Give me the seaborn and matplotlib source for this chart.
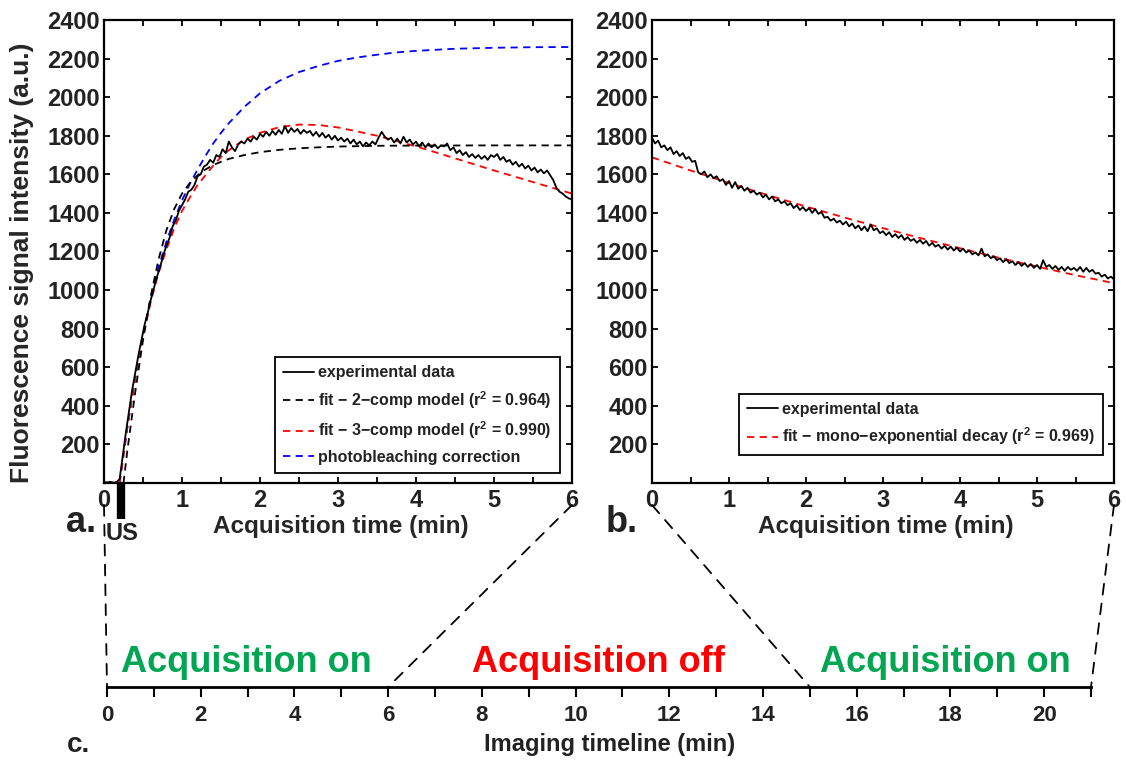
import numpy as np
import matplotlib
matplotlib.use('Agg')
import matplotlib.pyplot as plt
import matplotlib.transforms as mtransforms
from matplotlib.patches import ConnectionPatch
import seaborn as sns

# ---- panel a : uptake after US, experimental trace (a.u.) ----
signal_a = [5, 3, 6, 2, 4, 20, 140, 260, 370, 480, 570, 660, 740, 820, 880, 950,
            1010, 1070, 1120, 1180, 1230, 1270, 1330, 1360, 1410, 1440, 1470, 1510,
            1520, 1545, 1590, 1600, 1640, 1650, 1675, 1660, 1700, 1690, 1730, 1710,
            1770, 1740, 1720, 1755, 1770, 1760, 1785, 1770, 1795, 1780, 1810, 1795,
            1820, 1800, 1825, 1805, 1830, 1810, 1850, 1815, 1840, 1820, 1835, 1810,
            1830, 1815, 1825, 1800, 1820, 1795, 1815, 1790, 1805, 1780, 1800, 1775,
            1790, 1770, 1785, 1760, 1780, 1755, 1770, 1745, 1765, 1750, 1770, 1755,
            1790, 1820, 1795, 1780, 1790, 1765, 1785, 1760, 1795, 1765, 1780, 1755,
            1770, 1745, 1765, 1740, 1760, 1740, 1755, 1735, 1750, 1745, 1760, 1725,
            1740, 1710, 1725, 1700, 1715, 1690, 1705, 1685, 1700, 1680, 1695, 1675,
            1700, 1690, 1705, 1675, 1690, 1665, 1675, 1650, 1665, 1640, 1655, 1630,
            1645, 1620, 1635, 1610, 1625, 1605, 1620, 1595, 1570, 1530, 1510, 1500,
            1485, 1475, 1470]
time_a = np.linspace(0, 6, len(signal_a))

fit2_t = [0.25, 0.3, 0.4, 0.5, 0.6, 0.7, 0.8, 0.9, 1.0, 1.1, 1.2, 1.3, 1.4, 1.5,
          1.6, 1.8, 2.0, 2.25, 2.5, 2.75, 3.0, 3.5, 4.0, 5.0, 6.0]
fit2_v = [0, 170, 470, 740, 970, 1160, 1310, 1420, 1500, 1555, 1595, 1625, 1648,
          1665, 1680, 1700, 1715, 1727, 1735, 1740, 1744, 1748, 1749, 1750, 1750]

fit3_t = [0.2, 0.3, 0.4, 0.5, 0.6, 0.7, 0.8, 0.9, 1.0, 1.1, 1.2, 1.3, 1.4, 1.5,
          1.6, 1.8, 2.0, 2.25, 2.5, 2.75, 3.0, 3.25, 3.5, 3.75, 4.0, 4.5, 5.0, 5.5, 6.0]
fit3_v = [0, 290, 540, 760, 940, 1090, 1210, 1320, 1410, 1480, 1545, 1595, 1645,
          1690, 1725, 1780, 1815, 1845, 1858, 1856, 1843, 1822, 1800, 1773, 1745,
          1683, 1620, 1560, 1500]
bleach_v = [0, 290, 545, 770, 960, 1120, 1250, 1365, 1465, 1550, 1625, 1695, 1760,
            1815, 1865, 1950, 2020, 2085, 2130, 2162, 2188, 2206, 2220, 2232, 2240,
            2251, 2256, 2259, 2260]

# ---- panel b : wash-out after acquisition pause ----
signal_b = [1790, 1760, 1775, 1740, 1750, 1725, 1740, 1705, 1720, 1695, 1710, 1680,
            1690, 1665, 1670, 1610, 1600, 1615, 1585, 1600, 1580, 1590, 1565, 1575,
            1545, 1565, 1530, 1560, 1525, 1540, 1515, 1530, 1505, 1515, 1495, 1505,
            1480, 1495, 1470, 1485, 1460, 1470, 1450, 1460, 1440, 1450, 1425, 1440,
            1415, 1430, 1410, 1425, 1400, 1420, 1395, 1405, 1375, 1380, 1360, 1370,
            1350, 1360, 1340, 1355, 1330, 1345, 1320, 1335, 1310, 1330, 1305, 1340,
            1310, 1320, 1295, 1305, 1285, 1300, 1275, 1290, 1270, 1285, 1260, 1275,
            1255, 1265, 1245, 1260, 1240, 1255, 1230, 1245, 1225, 1235, 1215, 1230,
            1210, 1225, 1205, 1220, 1200, 1215, 1195, 1205, 1185, 1195, 1180, 1215,
            1175, 1185, 1165, 1175, 1155, 1165, 1145, 1160, 1140, 1150, 1130, 1145,
            1125, 1140, 1120, 1135, 1115, 1130, 1110, 1155, 1120, 1130, 1110, 1125,
            1105, 1120, 1100, 1120, 1105, 1115, 1100, 1120, 1095, 1115, 1095, 1105,
            1085, 1090, 1070, 1080, 1060, 1070, 1055]
time_b = np.linspace(0, 6, len(signal_b))

fitb_t = [0, 0.5, 1, 1.5, 2, 2.5, 3, 3.5, 4, 4.5, 5, 5.5, 6]
fitb_v = [1688, 1620, 1555, 1493, 1433, 1376, 1321, 1268, 1217, 1168, 1122, 1077, 1036]

# ---- timeline ----
timeline_ticks = list(range(0, 22))
phase_labels = ['Acquisition on', 'Acquisition off', 'Acquisition on']
phase_centers = [2.97, 10.48, 17.9]
phase_colors = ['#00A651', '#FF0000', '#00A651']

sns.set_style('ticks')
plt.rcParams['font.family'] = ['Liberation Sans', 'DejaVu Sans']
plt.rcParams['font.weight'] = 'bold'
plt.rcParams['mathtext.fontset'] = 'custom'
plt.rcParams['mathtext.rm'] = 'Liberation Sans:bold'
plt.rcParams['mathtext.bf'] = 'Liberation Sans:bold'
plt.rcParams['mathtext.it'] = 'Liberation Sans:bold'
plt.rcParams['text.color'] = '#222222'

W, H = 1126, 765
fig = plt.figure(figsize=(W / 100, H / 100), dpi=100)
fig.patch.set_facecolor('white')

ax_a = fig.add_axes([104 / W, 1 - 483 / H, 468 / W, 463 / H])
ax_b = fig.add_axes([652 / W, 1 - 483 / H, 462 / W, 463 / H])
ax_t = fig.add_axes([107 / W, 1 - 687 / H, 984 / W, 0.05])

dash = (0, (4, 3))
sns.lineplot(x=fit3_t, y=bleach_v, ax=ax_a, color='#0000FF', lw=1.3, linestyle=dash)
sns.lineplot(x=fit3_t, y=fit3_v, ax=ax_a, color='#FF0000', lw=1.3, linestyle=dash)
sns.lineplot(x=fit2_t, y=fit2_v, ax=ax_a, color='black', lw=1.3, linestyle=dash)
sns.lineplot(x=time_a, y=signal_a, ax=ax_a, color='black', lw=1.3)

sns.lineplot(x=fitb_t, y=fitb_v, ax=ax_b, color='#FF0000', lw=1.3, linestyle=dash)
sns.lineplot(x=time_b, y=signal_b, ax=ax_b, color='black', lw=1.3)

for ax in (ax_a, ax_b):
    ax.set_xlim(0, 6)
    ax.set_ylim(0, 2400)
    ax.set_xticks(np.arange(0, 6.01, 0.5))
    ax.set_xticklabels([str(int(v)) if v % 1 == 0 else '' for v in np.arange(0, 6.01, 0.5)])
    ax.set_yticks(range(200, 2401, 200))
    ax.tick_params(direction='in', length=4, width=1.3, top=True, right=True,
                   labelsize=17, colors='black', labelcolor='#222222')
    ax.tick_params(axis='x', pad=4)
    ax.tick_params(axis='y', pad=3)
    for s in ax.spines.values():
        s.set_visible(True)
        s.set_linewidth(1.6)
        s.set_color('black')
    ax.set_xlabel('Acquisition time (min)', fontsize=17.5, fontweight='bold')
    ax.xaxis.set_label_coords(0.507, -0.07)

ax_a.set_ylabel('Fluorescence signal intensity (a.u.)', fontsize=19, fontweight='bold')
ax_a.yaxis.set_label_coords(-0.15, 0.475)
ax_b.set_ylabel('')

lines = ax_a.get_lines()
leg_a = ax_a.legend([lines[3], lines[2], lines[1], lines[0]],
                    ['experimental data',
                     'fit − 2−comp model (r$^{\\mathbf{2}}$ = 0.964)',
                     'fit − 3−comp model (r$^{\\mathbf{2}}$ = 0.990)',
                     'photobleaching correction'],
                    loc='lower right', bbox_to_anchor=(0.974, 0.0216), borderaxespad=0,
                    fancybox=False, edgecolor='black', framealpha=1, fontsize=11.5,
                    handlelength=1.9, handletextpad=0.3, labelspacing=0.55, borderpad=0.5)
leg_a.get_frame().set_linewidth(1.3)

lines_b = ax_b.get_lines()
leg_b = ax_b.legend([lines_b[1], lines_b[0]],
                    ['experimental data',
                     'fit − mono−exponential decay (r$^{\\mathbf{2}}$ = 0.969)'],
                    loc='lower right', bbox_to_anchor=(0.976, 0.06), borderaxespad=0,
                    fancybox=False, edgecolor='black', framealpha=1, fontsize=11.5,
                    handlelength=1.9, handletextpad=0.3, labelspacing=0.55, borderpad=0.5)
leg_b.get_frame().set_linewidth(1.3)

# US marker
ax_a.plot([0.22, 0.22], [0, -187], color='black', lw=6, solid_capstyle='butt', clip_on=False)
fig.text(122 / W, 1 - 534 / H, 'US', fontsize=17, ha='center', va='center')

# panel letters
fig.text(81 / W, 1 - 522 / H, 'a.', fontsize=26, ha='center', va='center')
fig.text(622 / W, 1 - 522 / H, 'b.', fontsize=26, ha='center', va='center')
fig.text(78 / W, 1 - 745 / H, 'c.', fontsize=20, ha='center', va='center')

# timeline axis
ax_t.patch.set_visible(False)
for side in ('top', 'left', 'right'):
    ax_t.spines[side].set_visible(False)
ax_t.spines['bottom'].set_linewidth(2)
ax_t.spines['bottom'].set_color('black')
ax_t.set_xlim(0, 21)
ax_t.set_ylim(0, 1)
ax_t.set_yticks([])
ax_t.set_xticks(timeline_ticks)
ax_t.set_xticklabels([str(t) if t % 2 == 0 else '' for t in timeline_ticks])
ax_t.tick_params(axis='x', direction='out', length=7, width=1.5, pad=6,
                 labelsize=16, colors='black', labelcolor='#222222')
trans = mtransforms.blended_transform_factory(ax_t.transData, fig.transFigure)
for lab, cx, col in zip(phase_labels, phase_centers, phase_colors):
    ax_t.text(cx, 1 - 662 / H, lab, transform=trans, color=col, fontsize=26,
              ha='center', va='center')
fig.text(610 / W, 1 - 745 / H, 'Imaging timeline (min)', fontsize=17, ha='center', va='center')

# dashed zoom connectors from panels to the timeline
starts = [(104, 505), (572, 505), (652, 505), (1114, 505)]
ends = [0, 6, 15, 21]
for (sx, sy), t in zip(starts, ends):
    con = ConnectionPatch(xyA=(sx / W, 1 - sy / H), coordsA='figure fraction',
                          xyB=(t, 0), coordsB='data', axesB=ax_t,
                          color='black', lw=1.3, linestyle=(0, (6, 5)))
    fig.add_artist(con)

fig.savefig('out.png', dpi=100, facecolor='white')
